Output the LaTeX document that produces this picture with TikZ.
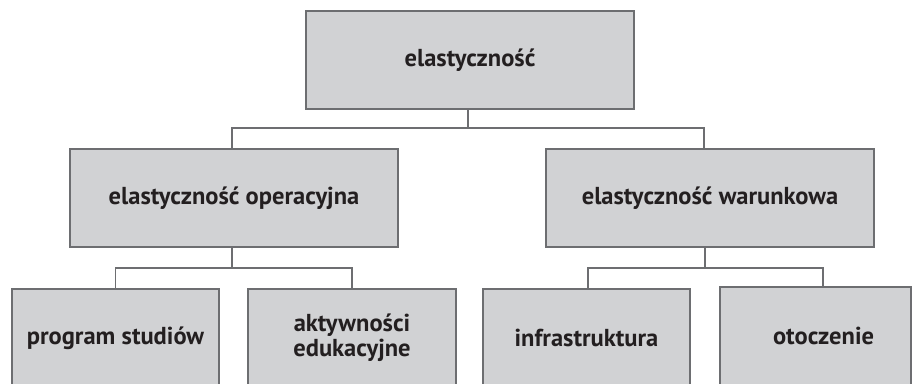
\documentclass[tikz,border=0pt]{standalone}
\usepackage{fontspec}
\setmainfont{PT Sans}
\definecolor{boxfill}{HTML}{D1D2D4}
\definecolor{boxline}{HTML}{6D6E71}
\definecolor{txt}{HTML}{231F20}
\begin{document}
\begin{tikzpicture}[x=1pt,y=-1pt,
  box/.style={draw=boxline, line width=1.7pt, fill=boxfill, rectangle,
    minimum height=98pt, inner sep=2pt, align=center,
    font=\fontsize{24.5}{25}\selectfont\bfseries, text=txt},
  conn/.style={draw=boxline, line width=1.4pt}]
\useasboundingbox (0,0) rectangle (915,383);
\clip (0,0) rectangle (915,383);
\fill[white] (0,0) rectangle (915,383);
% boxes
\node[box, minimum width=328pt] (top) at (470,60) {elastyczność};
\node[box, minimum width=328pt] (ml) at (234,198) {elastyczność operacyjna};
\node[box, minimum width=328pt] (mr) at (710,198) {elastyczność warunkowa};
\node[box, minimum width=207pt] (b1) at (115.5,338) {program studiów};
\node[box, minimum width=208pt] (b2) at (352,338) {aktywności\\edukacyjne};
\node[box, minimum width=207pt] (b3) at (586.5,338) {infrastruktura};
\node[box, minimum width=191pt] (b4) at (815.5,336) {\hspace*{16pt}otoczenie};
% junction coordinates
\coordinate (j0) at (468,128);
\coordinate (jl) at (232,128);
\coordinate (jr) at (704,128);
\coordinate (kl) at (232,268);
\coordinate (kr) at (705,268);
% connectors
\draw[conn] (top.south -| j0) -- (j0);
\draw[conn] (ml.north -| jl) -- (jl) -- (jr) -- (mr.north -| jr);
\draw[conn] (ml.south -| kl) -- (kl);
\draw[conn] (b1.north) |- (kl) -| (b2.north);
\draw[conn] (mr.south -| kr) -- (kr);
\draw[conn] ([xshift=1.5pt]b3.north) |- (kr) -| ([xshift=7.5pt]b4.north);
\end{tikzpicture}
\end{document}
